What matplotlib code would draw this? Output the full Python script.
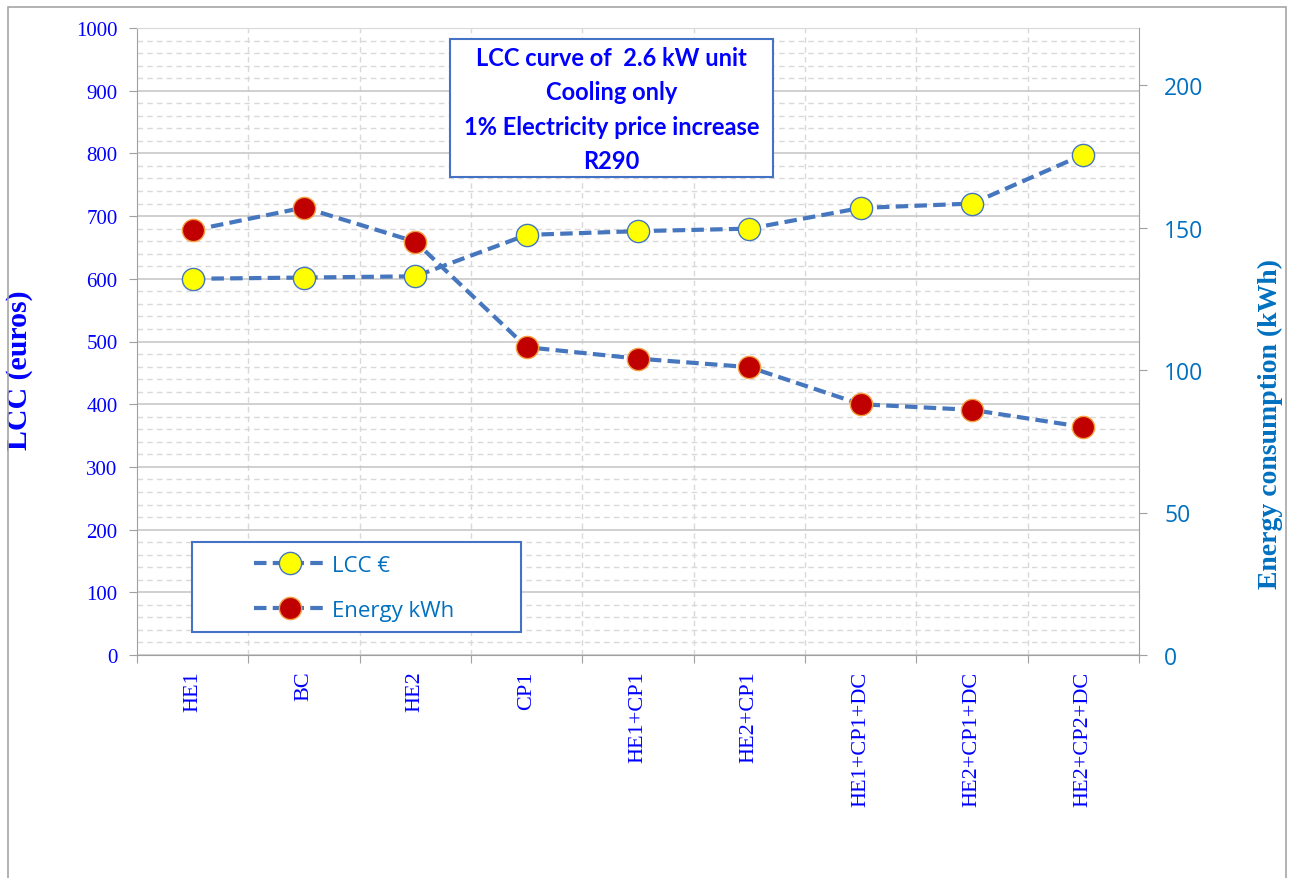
import numpy as np
import matplotlib.pyplot as plt
from matplotlib.patches import Rectangle
from matplotlib.ticker import MultipleLocator

categories = ["HE1", "BC", "HE2", "CP1", "HE1+CP1", "HE2+CP1",
              "HE1+CP1+DC", "HE2+CP1+DC", "HE2+CP2+DC"]
lcc = [600, 602, 604, 670, 676, 680, 713, 720, 798]
energy = [149, 157, 145, 108, 104, 101, 88, 86, 80]

line_col = '#4677BE'
blue = '#0000FF'
kwh_blue = '#0070C0'

W, H = 1290, 879
fig = plt.figure(figsize=(W / 100, H / 100), dpi=100)
fig.patches.append(Rectangle((8 / W, -0.01), 1278 / W, 1 - 8 / H + 0.01,
                             transform=fig.transFigure, fill=False,
                             edgecolor='#A6A6A6', linewidth=1.2))

# plot area in pixels: x 137..1139, y 29..656
ax = fig.add_axes([137 / W, 1 - 656 / H, 1002 / W, 627 / H])
ax2 = ax.twinx()


def ax_xy(px, py):
    # pixel position -> axes fraction
    return (px - 137) / 1002, (656 - py) / 627


x = np.arange(len(categories))

ax.set_xlim(-0.5, len(categories) - 0.5)
ax.set_ylim(0, 1000)
ax2.set_ylim(0, 220)

# grid
ax.yaxis.set_major_locator(MultipleLocator(100))
ax.yaxis.set_minor_locator(MultipleLocator(20))
ax.grid(True, which='major', axis='y', color='#C8C8C8', linewidth=1.2)
ax.grid(True, which='minor', axis='y', color='#D9D9D9', linewidth=1, linestyle=(0, (4, 3)))
for b in np.arange(0.5, len(categories) - 0.5, 1):
    ax.axvline(b, color='#D9D9D9', linewidth=1, linestyle=(0, (4, 3)), zorder=0)
ax.tick_params(axis='y', which='minor', length=0)

ax.plot(x, lcc, color=line_col, linestyle='--', linewidth=3, dashes=(3, 1.5),
        marker='o', markersize=16, markerfacecolor='#FFFF00',
        markeredgecolor='#4677BE', markeredgewidth=1, label='LCC €', zorder=3)
ax2.plot(x, energy, color=line_col, linestyle='--', linewidth=3, dashes=(3, 1.5),
         marker='o', markersize=16, markerfacecolor='#C00000',
         markeredgecolor='#F4A040', markeredgewidth=1, label='Energy kWh', zorder=3)

# axes styling
for a in (ax, ax2):
    for s in a.spines.values():
        s.set_visible(False)
ax.spines['left'].set_visible(True)
ax.spines['left'].set_color('#A0A0A0')
ax.spines['bottom'].set_visible(True)
ax.spines['bottom'].set_color('#A0A0A0')
ax2.spines['right'].set_visible(True)
ax2.spines['right'].set_color('#A0A0A0')
ax.spines['top'].set_visible(True)
ax.spines['top'].set_color('#D9D9D9')

ax.set_xticks(np.arange(-0.5, len(categories), 1))
ax.set_xticklabels([])
ax.set_xticks(x, minor=True)
ax.set_xticklabels(categories, minor=True, rotation=90, fontsize=16,
                   family='Liberation Serif', color=blue, va='top')
ax.tick_params(axis='x', which='major', length=6, color='#A0A0A0')
ax.tick_params(axis='x', which='minor', length=0, pad=11)

ax.tick_params(axis='y', which='major', length=6, color='#A0A0A0', labelsize=15,
               labelcolor=blue, pad=8)
for t in ax.get_yticklabels():
    t.set_family('Liberation Serif')

ax2.yaxis.set_major_locator(MultipleLocator(50))
ax2.tick_params(axis='y', length=6, color='#A0A0A0', labelsize=16.5,
                labelcolor=kwh_blue, pad=12)
for t in ax2.get_yticklabels():
    t.set_family('Open Sans')

ax.set_ylabel('LCC (euros)', fontsize=21.5, fontweight='bold', color=blue,
              family='Liberation Serif')
ax.yaxis.set_label_coords((33 - 137) / 1002, ax_xy(0, 370)[1])
ax2.set_ylabel('Energy consumption (kWh)', fontsize=20, fontweight='bold',
               color=kwh_blue, family='Liberation Serif', rotation=90)
ax2.yaxis.set_label_coords((1258 - 137) / 1002, ax_xy(0, 424)[1])

# title box
bx0, by0 = ax_xy(450, 178)
bx1, by1 = ax_xy(773, 40)
ax.add_patch(Rectangle((bx0, by0), bx1 - bx0, by1 - by0, transform=ax.transAxes,
                       facecolor='white', edgecolor='#4472C4', linewidth=1.5, zorder=5))
tx, ty = ax_xy(611.5, 110)
ax.text(tx, ty,
        "LCC curve of  2.6 kW unit\nCooling only\n1% Electricity price increase\nR290",
        transform=ax.transAxes, ha='center', va='center',
        fontsize=17, fontweight='bold', color=blue, family='Lato', linespacing=1.6,
        zorder=6)

# legend box
lx0, ly0 = ax_xy(192, 633)
lx1, ly1 = ax_xy(521, 543)
ax2.add_patch(Rectangle((lx0, ly0), lx1 - lx0, ly1 - ly0, transform=ax2.transAxes,
                        facecolor='white', edgecolor='#4472C4', linewidth=1.5, zorder=5))
h1, l1 = ax.get_legend_handles_labels()
h2, l2 = ax2.get_legend_handles_labels()
leg = ax2.legend(h1 + h2, l1 + l2, loc='center left',
                 bbox_to_anchor=ax_xy(254, 589),
                 frameon=False, prop={'family': 'Open Sans', 'size': 16},
                 labelcolor=kwh_blue, handlelength=3.2, handletextpad=0.3,
                 labelspacing=1.1, borderpad=0, borderaxespad=0)
leg.set_zorder(6)

fig.savefig('out.png', dpi=100)
